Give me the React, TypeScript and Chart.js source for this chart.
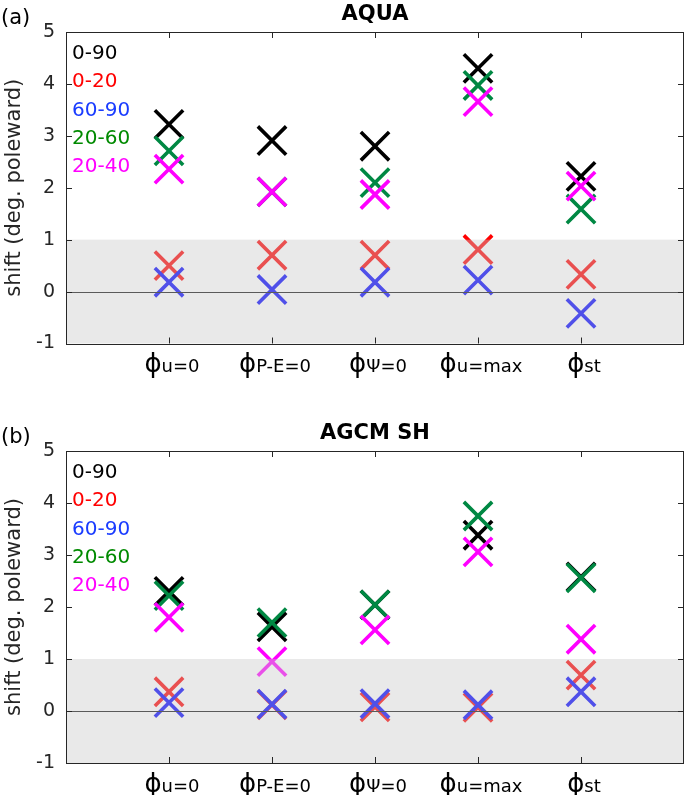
import React, { useEffect, useRef } from "react";
import { Chart, registerables } from "chart.js";

Chart.register(...registerables);

// ---- data ----
const categories = ["u=0", "P-E=0", "Ψ=0", "u=max", "st"];
const phiSymbol = "ϕ";
const seriesLabels = ["0-90", "0-20", "60-90", "20-60", "20-40"];
const markerColors = ["#000000", "#ff0000", "#0000ff", "#008843", "#ff00ff"];
const textColors = ["#000000", "#ff0000", "#1a3cff", "#008a00", "#ff00ff"];
const drawOrder = [5, 4, 3, 2, 1];

// AQUA panel
const aqua_0_90 = [3.22, 2.91, 2.8, 4.3, 2.22];
const aqua_0_20 = [0.5, 0.7, 0.7, 0.81, 0.33];
const aqua_60_90 = [0.18, 0.04, 0.18, 0.22, -0.42];
const aqua_20_60 = [2.71, 1.92, 2.1, 3.97, 1.59];
const aqua_20_40 = [2.36, 1.92, 1.87, 3.66, 2.03];

// AGCM SH panel
const agcm_0_90 = [2.3, 1.62, 2.04, 3.38, 2.58];
const agcm_0_20 = [0.37, 0.12, 0.08, 0.07, 0.69];
const agcm_60_90 = [0.16, 0.13, 0.14, 0.12, 0.37];
const agcm_20_60 = [2.22, 1.7, 2.04, 3.75, 2.56];
const agcm_20_40 = [1.8, 0.95, 1.56, 3.06, 1.38];

const yTicks = [-1, 0, 1, 2, 3, 4, 5];
const bandRange = [-1, 1];
const yLabel = "shift (deg. poleward)";

const FONT = "DejaVu Sans";
const AXIS_COLOR = "#262626";

function makePlugin(title: string, letter: string) {
  return {
    id: "panelDecor",
    afterDatasetsDraw(chart: any) {
      const { ctx, chartArea: a, scales } = chart;
      const y = scales.y;
      ctx.save();
      const yTop = y.getPixelForValue(bandRange[1]);
      const yBot = y.getPixelForValue(bandRange[0]);
      ctx.fillStyle = "rgba(200,200,200,0.4)";
      ctx.fillRect(a.left, yTop, a.right - a.left, yBot - yTop);
      const yz = Math.round(y.getPixelForValue(0)) + 0.5;
      ctx.strokeStyle = "#5a5a5a";
      ctx.lineWidth = 1.2;
      ctx.beginPath();
      ctx.moveTo(a.left, yz);
      ctx.lineTo(a.right, yz);
      ctx.stroke();
      ctx.restore();
    },
    afterDraw(chart: any) {
      const { ctx, chartArea: a, scales } = chart;
      const x = scales.x;
      const y = scales.y;
      ctx.save();
      // box
      ctx.strokeStyle = AXIS_COLOR;
      ctx.lineWidth = 1;
      ctx.strokeRect(Math.round(a.left) + 0.5, Math.round(a.top) + 0.5, Math.round(a.right - a.left) - 1, Math.round(a.bottom - a.top));
      // inward ticks
      const tl = 6;
      ctx.beginPath();
      yTicks.forEach((v) => {
        const py = Math.round(y.getPixelForValue(v)) + 0.5;
        ctx.moveTo(a.left, py);
        ctx.lineTo(a.left + tl, py);
        ctx.moveTo(a.right, py);
        ctx.lineTo(a.right - tl, py);
      });
      categories.forEach((_, i) => {
        const px = Math.round(x.getPixelForValue(i + 1)) + 0.5;
        ctx.moveTo(px, a.bottom);
        ctx.lineTo(px, a.bottom - tl);
        ctx.moveTo(px, a.top);
        ctx.lineTo(px, a.top + tl);
      });
      ctx.stroke();

      // legend text
      ctx.textAlign = "left";
      ctx.textBaseline = "alphabetic";
      ctx.font = `20px "${FONT}"`;
      seriesLabels.forEach((lab, i) => {
        ctx.fillStyle = textColors[i];
        ctx.fillText(lab, a.left + 6, a.top + 27 + i * 28.3);
      });

      // title
      ctx.fillStyle = "#000000";
      ctx.font = `bold 21px "${FONT}"`;
      ctx.textAlign = "center";
      ctx.fillText(title, (a.left + a.right) / 2, a.top - 12);

      // panel letter
      ctx.textAlign = "left";
      ctx.font = `21px "${FONT}"`;
      ctx.fillStyle = "#000000";
      ctx.fillText(letter, 1, a.top - 8);

      // x labels
      const base = a.bottom + 28.5;
      categories.forEach((c, i) => {
        const px = x.getPixelForValue(i + 1);
        ctx.font = `26px "${FONT}"`;
        const pw = ctx.measureText(phiSymbol).width;
        ctx.font = `18px "${FONT}"`;
        const tw = ctx.measureText(c).width;
        const start = px - (pw + tw) / 2 + 3;
        ctx.fillStyle = "#000000";
        ctx.font = `26px "${FONT}"`;
        ctx.fillText(phiSymbol, start, base);
        ctx.font = `18px "${FONT}"`;
        ctx.fillText(c, start + pw, base);
      });
      ctx.restore();
    },
  };
}

function Panel(props: { series: number[][]; title: string; letter: string; top: number; height: number; padTop: number; padBottom: number }) {
  const ref = useRef<HTMLCanvasElement>(null);
  useEffect(() => {
    const canvas = ref.current!;
    const datasets = props.series.map((vals, si) => ({
      label: seriesLabels[si],
      data: vals.map((v, i) => ({ x: i + 1, y: v })),
      borderColor: markerColors[si],
      backgroundColor: markerColors[si],
      pointStyle: "crossRot",
      pointRadius: 20,
      pointHoverRadius: 20,
      pointBorderWidth: 3.6,
      borderWidth: 3.6,
      showLine: false,
      order: drawOrder[si],
    }));
    const chart = new Chart(canvas, {
      type: "scatter",
      data: { datasets } as any,
      options: {
        animation: false,
        responsive: false,
        events: [],
        layout: { autoPadding: false, padding: { top: props.padTop, bottom: props.padBottom, left: 0, right: 1 } },
        plugins: { legend: { display: false }, tooltip: { enabled: false } },
        scales: {
          x: { type: "linear", min: 0, max: 6, display: false },
          y: {
            type: "linear",
            min: -1,
            max: 5,
            grid: { display: false, drawTicks: false },
            border: { display: false },
            ticks: {
              stepSize: 1,
              padding: 11,
              color: AXIS_COLOR,
              font: { family: FONT, size: 19 },
            },
            title: {
              display: true,
              text: yLabel,
              color: AXIS_COLOR,
              font: { family: FONT, size: 21 },
              padding: { top: 2, bottom: 0 },
            },
            afterFit: (s: any) => {
              s.width = 66;
            },
          },
        },
      } as any,
      plugins: [makePlugin(props.title, props.letter)],
    });
    return () => chart.destroy();
  }, []);
  return (
    <canvas
      ref={ref}
      width={685}
      height={props.height}
      style={{ position: "absolute", left: 0, top: props.top, width: 685, height: props.height }}
    />
  );
}

export default function App() {
  return (
    <div style={{ position: "absolute", left: 0, top: 0, width: 685, height: 795, background: "#ffffff" }}>
      <Panel
        series={[aqua_0_90, aqua_0_20, aqua_60_90, aqua_20_60, aqua_20_40]}
        title="AQUA"
        letter="(a)"
        top={0}
        height={398}
        padTop={32}
        padBottom={54.5}
      />
      <Panel
        series={[agcm_0_90, agcm_0_20, agcm_60_90, agcm_20_60, agcm_20_40]}
        title="AGCM SH"
        letter="(b)"
        top={398}
        height={397}
        padTop={53}
        padBottom={32}
      />
    </div>
  );
}
